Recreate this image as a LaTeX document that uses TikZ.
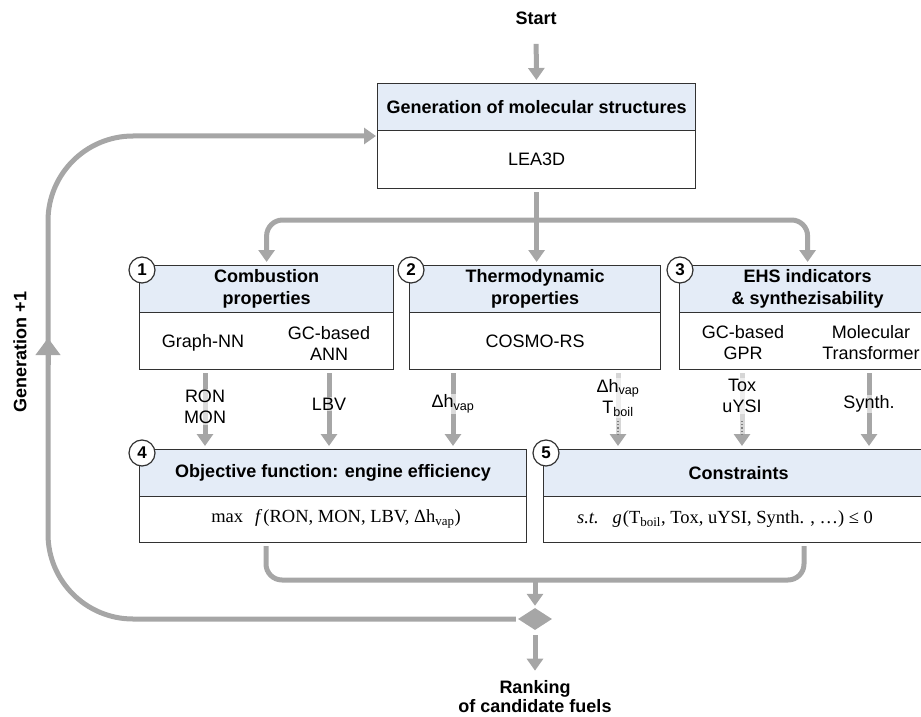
\documentclass[tikz,border=0pt]{standalone}
\usepackage{fontspec}
\setmainfont{Liberation Sans}
\newfontfamily\serifm{Liberation Serif}
\usetikzlibrary{arrows.meta,shapes.geometric}
\definecolor{gline}{RGB}{166,166,166}
\definecolor{glight}{RGB}{214,214,214}
\definecolor{hdrc}{RGB}{228,236,247}
\definecolor{bordc}{RGB}{50,50,50}
\begin{document}
\begin{tikzpicture}[x=1bp,y=-1bp,
 txt/.style={font=\fontsize{18bp}{21bp}\selectfont, align=center, inner sep=1bp},
 ttl/.style={font=\bfseries\fontsize{18bp}{22bp}\selectfont, align=center},
 hdr/.style={draw=bordc, line width=1.2bp, fill=hdrc, anchor=north west, inner sep=0pt, ttl},
 bdy/.style={draw=bordc, line width=1.2bp, fill=white, anchor=north west, inner sep=0pt, txt},
 num/.style={circle, draw=bordc, line width=1.2bp, fill=white, minimum size=26bp, inner sep=0pt, font=\bfseries\fontsize{17bp}{17bp}\selectfont},
 gl/.style={draw=gline, line width=5bp},
 garrow/.style={gl, -{Triangle[width=16bp,length=12bp,color=gline]}},
 garrowlt/.style={draw=glight, line width=5bp, -{Triangle[width=16bp,length=12bp,color=gline]}},
 lbl/.style={txt, fill=white, fill opacity=0.6, text opacity=1},
 dotl/.style={draw=gray, dotted, line width=1.2bp},
 frm/.style={font=\serifm\fontsize{18.5bp}{21bp}\selectfont, inner sep=1bp},
]
\useasboundingbox (0,0) rectangle (921,717);
\clip (0,0) rectangle (921,717);

% generation box
\node[hdr, minimum width=318bp, minimum height=47bp] (genH) at (377,83) {Generation of molecular structures};
\node[bdy, minimum width=318bp, minimum height=58bp] (genB) at (377,130) {LEA3D};

% box 1
\node[hdr, minimum width=254bp, minimum height=47bp] (b1H) at (139,265) {Combustion\\properties};
\node[bdy, minimum width=254bp, minimum height=57bp] (b1B) at (139,312) {};
\node[txt] (gnn) at (203,343) {Graph-NN};
\node[txt] (gca) at (329,343) {GC-based\\ANN};
% box 2
\node[hdr, minimum width=251bp, minimum height=47bp] (b2H) at (409,265) {Thermodynamic\\properties};
\node[bdy, minimum width=251bp, minimum height=57bp] (b2B) at (409,312) {COSMO-RS};
% box 3
\node[hdr, minimum width=256bp, minimum height=47bp] (b3H) at (679,265) {EHS indicators\\\& synthezisability};
\node[bdy, minimum width=256bp, minimum height=57bp] (b3B) at (679,312) {};
\node[txt] (gpr) at (743,343) {GC-based\\GPR};
\node[txt] (mtr) at (871,343) {Molecular\\Transformer};
% box 4
\node[hdr, minimum width=387bp, minimum height=47bp] (b4H) at (139,449) {Objective function: engine efficiency};
\node[bdy, minimum width=387bp, minimum height=46bp] (b4B) at (139,496) {};
\node[frm] (f4) at (336,519) {max\hspace{12bp}\textit{f}\hspace{1bp}(RON, MON, LBV, Δh\textsubscript{vap})};
% box 5
\node[hdr, minimum width=390bp, minimum height=47bp] (b5H) at (543,449) {Constraints};
\node[bdy, minimum width=390bp, minimum height=46bp] (b5B) at (543,496) {};
\node[frm] (f5) at (725,519) {\textit{s.t.}\hspace{14bp}\textit{g}\hspace{1bp}(T\textsubscript{boil}, Tox, uYSI, Synth. , …) ≤ 0};

% numbers
\node[num] (n1) at (142,270) {1};
\node[num] (n2) at (411,270) {2};
\node[num] (n3) at (680,270) {3};
\node[num] (n4) at (142,453) {4};
\node[num] (n5) at (546,453) {5};

% start
\node[ttl] (start) at (536,18) {Start};
\draw[garrow, shorten <=16bp, shorten >=3bp] (start) -- (genH);
\draw[garrow, shorten <=3bp, shorten >=3bp] (genB.south) -- (genB.south |- b2H.north);
\coordinate (br) at (536,220);
\draw[garrow, rounded corners=16bp, shorten >=3bp] (br) -| (b1H.north);
\draw[garrow, rounded corners=16bp, shorten >=3bp] (br) -| (b3H.north);

% arrows between rows
\coordinate (s1) at (205,369);
\coordinate (s2) at (329,369);
\coordinate (s3) at (453,369);
\coordinate (s4) at (618,369);
\coordinate (s5) at (742,369);
\coordinate (s6) at (869,369);
\draw[garrow, shorten <=4bp, shorten >=3bp] (s1) -- (s1 |- b4H.north);
\draw[garrow, shorten <=4bp, shorten >=3bp] (s2) -- (s2 |- b4H.north);
\draw[garrow, shorten <=4bp, shorten >=3bp] (s3) -- (s3 |- b4H.north);
\draw[garrowlt, shorten <=4bp, shorten >=3bp] (s4) -- (s4 |- b5H.north);
\draw[garrowlt, shorten <=4bp, shorten >=3bp] (s5) -- (s5 |- b5H.north);
\draw[garrow, shorten <=4bp, shorten >=3bp] (s6) -- (s6 |- b5H.north);
\coordinate (d4a) at (618,421);
\coordinate (d4b) at (618,434);
\coordinate (d5a) at (742,421);
\coordinate (d5b) at (742,434);
\draw[dotl] (d4a) -- (d4b);
\draw[dotl] (d5a) -- (d5b);
\node[lbl] (lron) at (205,407) {RON\\MON};
\node[lbl] (llbv) at (329,404) {LBV};
\node[lbl] (ldh) at (453,404) {Δh\textsubscript{vap}};
\node[lbl] (ltb) at (618,398) {Δh\textsubscript{vap}\\T\textsubscript{boil}};
\node[lbl] (ltox) at (742,396) {Tox\\uYSI};
\node[lbl] (lsyn) at (869,404) {Synth.};

% bottom
\coordinate (m4) at (266,546);
\coordinate (m5) at (804,546);
\coordinate (bot) at (535,580);
\draw[gl, rounded corners=16bp] (m4) |- (bot) -| (m5);
\node[diamond, fill=gline, minimum width=34bp, minimum height=22bp, inner sep=0pt] (dia) at (535,619) {};
\draw[garrow, shorten >=2bp] (bot) -- (dia.north);
\node[ttl, font=\bfseries\fontsize{18bp}{19bp}\selectfont, inner sep=1bp] (rank) at (535,697) {Ranking\\of candidate fuels};
\draw[garrow, shorten <=5bp, shorten >=9bp] (dia.south) -- (rank.north);

% feedback loop
\coordinate (lc1) at (48,619);
\coordinate (lc2) at (48,136);
\coordinate (gin) at (377,136);
\draw[garrow, rounded corners=85bp, shorten <=2bp, shorten >=1bp] (dia.west) -- (lc1) -- (lc2) -- (gin);
\coordinate (ua) at (48,365);
\coordinate (ub) at (48,338);
\draw[gl, -{Triangle[width=24bp,length=17bp,color=gline]}] (ua) -- (ub);
\node[ttl, rotate=90] (gen1) at (20,352) {Generation +1};
\end{tikzpicture}
\end{document}
